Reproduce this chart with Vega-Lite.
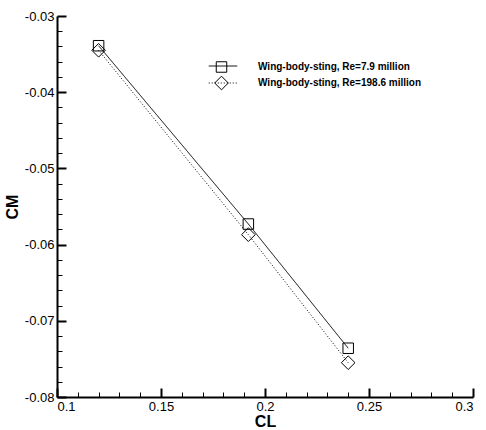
{
  "$schema": "https://vega.github.io/schema/vega-lite/v6.json",
  "width": 416,
  "height": 381,
  "autosize": {"type": "none"},
  "padding": {"left": 57, "top": 16, "right": 13, "bottom": 33},
  "background": "white",
  "data": {
    "values": [
      {"series": "Wing-body-sting, Re=7.9 million", "CL": 0.12, "CM": -0.0339},
      {"series": "Wing-body-sting, Re=7.9 million", "CL": 0.192, "CM": -0.0573},
      {"series": "Wing-body-sting, Re=7.9 million", "CL": 0.24, "CM": -0.0736},
      {"series": "Wing-body-sting, Re=198.6 million", "CL": 0.12, "CM": -0.0345},
      {"series": "Wing-body-sting, Re=198.6 million", "CL": 0.192, "CM": -0.0587},
      {"series": "Wing-body-sting, Re=198.6 million", "CL": 0.24, "CM": -0.0755}
    ]
  },
  "encoding": {
    "x": {
      "field": "CL",
      "type": "quantitative",
      "scale": {"domain": [0.1, 0.3], "nice": false, "zero": false},
      "axis": {
        "title": "CL",
        "values": [0.1, 0.11, 0.12, 0.13, 0.14, 0.15, 0.16, 0.17, 0.18, 0.19, 0.2, 0.21, 0.22, 0.23, 0.24, 0.25, 0.26, 0.27, 0.28, 0.29, 0.3],
        "tickSize": {"condition": {"test": "abs(datum.value*20 - round(datum.value*20)) < 1e-6", "value": -9}, "value": -5},
        "tickWidth": {"condition": {"test": "abs(datum.value*20 - round(datum.value*20)) < 1e-6", "value": 2}, "value": 1},
        "labelExpr": "abs(datum.value*20 - round(datum.value*20)) < 1e-6 ? format(datum.value, '~f') : ''",
        "labelPadding": 12,
        "titlePadding": 0
      }
    },
    "y": {
      "field": "CM",
      "type": "quantitative",
      "scale": {"domain": [-0.08, -0.03], "nice": false, "zero": false},
      "axis": {
        "title": "CM",
        "values": [-0.08, -0.078, -0.076, -0.074, -0.072, -0.07, -0.068, -0.066, -0.064, -0.062, -0.06, -0.058, -0.056, -0.054, -0.052, -0.05, -0.048, -0.046, -0.044, -0.042, -0.04, -0.038, -0.036, -0.034, -0.032, -0.03],
        "tickSize": {"condition": {"test": "abs(datum.value*100 - round(datum.value*100)) < 1e-6", "value": -9}, "value": -5},
        "tickWidth": {"condition": {"test": "abs(datum.value*100 - round(datum.value*100)) < 1e-6", "value": 2}, "value": 1},
        "labelExpr": "abs(datum.value*100 - round(datum.value*100)) < 1e-6 ? '-' + format(abs(datum.value), '.2f') : ''",
        "labelPadding": 12,
        "titlePadding": 4
      }
    }
  },
  "layer": [
    {
      "mark": {"type": "line", "color": "black", "strokeWidth": 1},
      "encoding": {
        "detail": {"field": "series"},
        "strokeDash": {
          "field": "series",
          "type": "nominal",
          "scale": {"domain": ["Wing-body-sting, Re=198.6 million", "Wing-body-sting, Re=7.9 million"], "range": [[1, 2], [1, 0]]},
          "legend": {
            "orient": "none",
            "legendX": 161,
            "legendY": 45,
            "title": null,
            "values": ["Wing-body-sting, Re=7.9 million", "Wing-body-sting, Re=198.6 million"],
            "symbolType": "M-5,0L5,0",
            "symbolSize": 32.5,
            "symbolStrokeColor": "black",
            "symbolStrokeWidth": 1,
            "labelExpr": "''",
            "labelFontSize": 10,
            "rowPadding": 7,
            "padding": 0
          }
        }
      }
    },
    {
      "mark": {"type": "point", "filled": false, "color": "black", "strokeWidth": 1, "opacity": 1, "size": 110},
      "encoding": {
        "shape": {
          "field": "series",
          "type": "nominal",
          "scale": {"domain": ["Wing-body-sting, Re=7.9 million", "Wing-body-sting, Re=198.6 million"], "range": ["square", "M-1.3,0L0,-1.3L1.3,0L0,1.3Z"]},
          "legend": {
            "orient": "none",
            "legendX": 158.5,
            "legendY": 45,
            "title": null,
            "symbolSize": 110,
            "symbolStrokeColor": "black",
            "symbolFillColor": "white",
            "symbolStrokeWidth": 1,
            "labelFont": "Liberation Sans",
            "labelFontWeight": "bold",
            "labelFontSize": 10,
            "labelColor": "black",
            "labelOffset": 30.5,
            "labelLimit": 300,
            "rowPadding": -1,
            "padding": 0
          }
        }
      }
    }
  ],
  "config": {
    "view": {"stroke": null},
    "axis": {
      "grid": false,
      "domainColor": "black",
      "domainWidth": 2,
      "tickColor": "black",
      "labelColor": "black",
      "labelFont": "Liberation Sans",
      "labelFontSize": 13,
      "titleFont": "Liberation Sans",
      "titleFontSize": 16,
      "titleFontWeight": "bold",
      "titleColor": "black"
    }
  }
}
